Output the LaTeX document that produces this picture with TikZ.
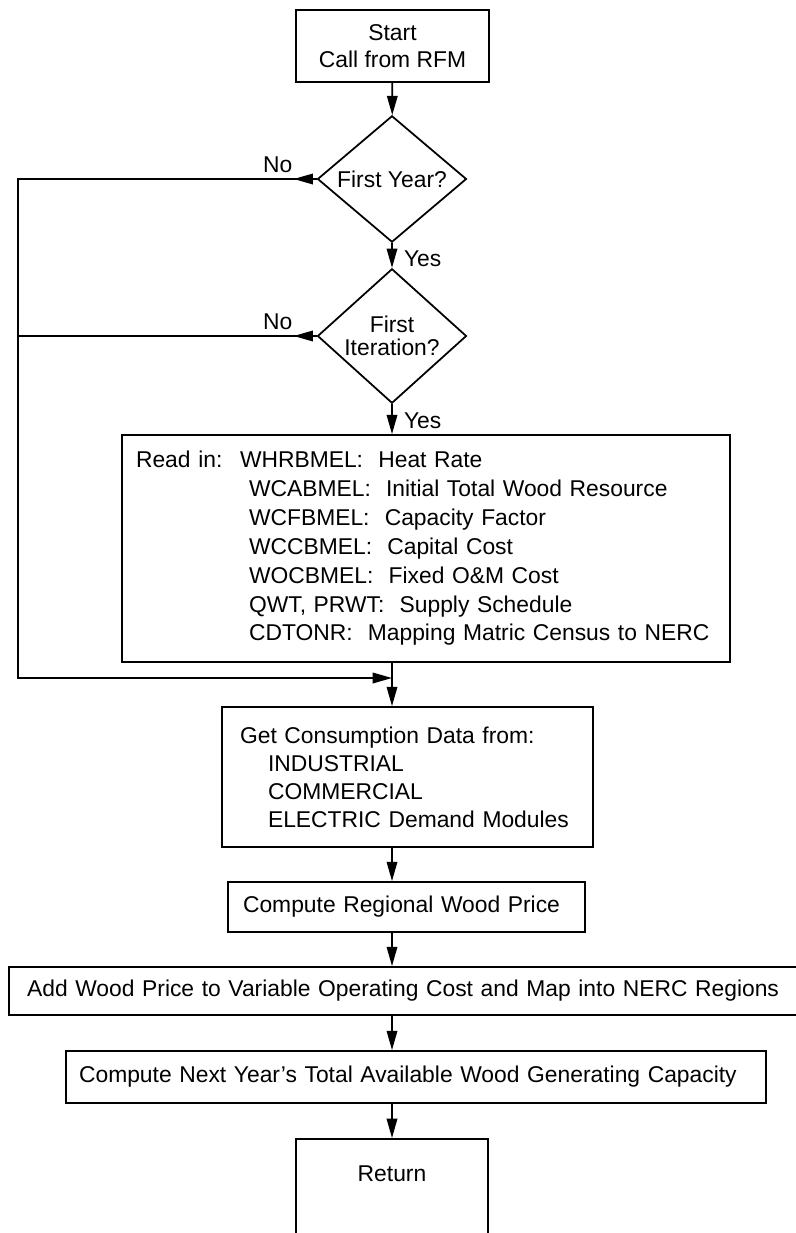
\documentclass[tikz,border=0pt]{standalone}
\usepackage{fontspec}
\setmainfont{Liberation Sans}
\usetikzlibrary{shapes.geometric,arrows.meta}
\tikzset{
  every node/.style={font=\fontsize{13}{16}\selectfont},
  box/.style={draw,line width=1pt,rectangle},
  decision/.style={draw,line width=1pt,diamond,inner sep=0pt,align=center,
    minimum width=2.98cm,minimum height=2.38cm},
  flow/.style={line width=1pt,-{Triangle[length=11pt,width=6pt]}},
  wire/.style={line width=1pt},
}
\begin{document}
\begin{tikzpicture}[x=0.02cm,y=-0.02cm]
\useasboundingbox (0,0) rectangle (795,1233);
% boxes
\node[box,align=center,minimum width=3.86cm,minimum height=1.44cm,
  font=\fontsize{13}{15.3}\selectfont] (start) at (392.5,46) {Start\\Call from RFM};
\node[decision] (year) at (392,179) {First Year?};
\node[decision,font=\fontsize{13}{12.8}\selectfont] (iter) at (392,336) {First\\Iteration?};
\node[box,align=left,text width=11.6cm,inner xsep=0.28cm,minimum height=4.54cm,
  font=\fontsize{13}{16.4}\selectfont] (readin) at (426,548.5) {%
  \makebox[2.08cm][l]{Read in:}WHRBMEL:~~Heat Rate\\
  \hspace*{2.26cm}WCABMEL:~~Initial Total Wood Resource\\
  \hspace*{2.26cm}WCFBMEL:~~Capacity Factor\\
  \hspace*{2.26cm}WCCBMEL:~~Capital Cost\\
  \hspace*{2.26cm}WOCBMEL:~~Fixed O\&M Cost\\
  \hspace*{2.26cm}QWT, PRWT:~~Supply Schedule\\
  \hspace*{2.26cm}CDTONR:~~Mapping Matric Census to NERC};
\node[box,align=left,text width=6.7cm,inner xsep=0.36cm,minimum height=2.8cm]
  (getdata) at (407.5,777) {%
  Get Consumption Data from:\\
  \hspace*{0.56cm}INDUSTRIAL\\
  \hspace*{0.56cm}COMMERCIAL\\
  \hspace*{0.56cm}ELECTRIC Demand Modules};
\node[box,align=left,text width=6.54cm,inner xsep=0.3cm,minimum height=1.0cm]
  (price) at (406.5,907) {Compute Regional Wood Price};
\node[box,align=left,text width=15.1cm,inner xsep=0.36cm,minimum height=0.96cm]
  (addwood) at (404.5,991) {Add Wood Price to Variable Operating Cost and Map into NERC Regions};
\node[box,align=left,text width=13.48cm,inner xsep=0.26cm,minimum height=1.04cm]
  (nextyear) at (416,1077) {Compute Next Year's Total Available Wood Generating Capacity};
\node[box,anchor=north,minimum width=3.84cm,inner sep=0pt,text height=0.85cm,
  text depth=1.4cm] (ret) at (392,1138) {Return};
\coordinate (join) at (392,678);
% main line
\draw[flow] (start) -- (year);
\draw[flow] (year) -- node[right=3pt,pos=0.65] {Yes} (iter);
\draw[flow] (iter) -- node[right=3pt,pos=0.54] {Yes} (iter.south |- readin.north);
\draw[flow] (readin.south -| year) -- (getdata.north -| year);
\draw[flow] (getdata.south -| year) -- (price.north -| year);
\draw[flow] (price.south -| year) -- (addwood.north -| year);
\draw[flow] (addwood.south -| year) -- (nextyear.north -| year);
\draw[flow] (nextyear.south -| year) -- (ret.north -| year);
% no branches
\draw[flow] (year.west) -- ++(-23,0);
\draw[flow] (iter.west) -- ++(-23,0);
\draw[wire] (year.west) -- node[above,pos=0.13] {No} (18,179) -- (18,336);
\draw[wire] (iter.west) -- node[above,pos=0.13] {No} (18,336);
\draw[flow] (18,336) |- (join);
\end{tikzpicture}
\end{document}
